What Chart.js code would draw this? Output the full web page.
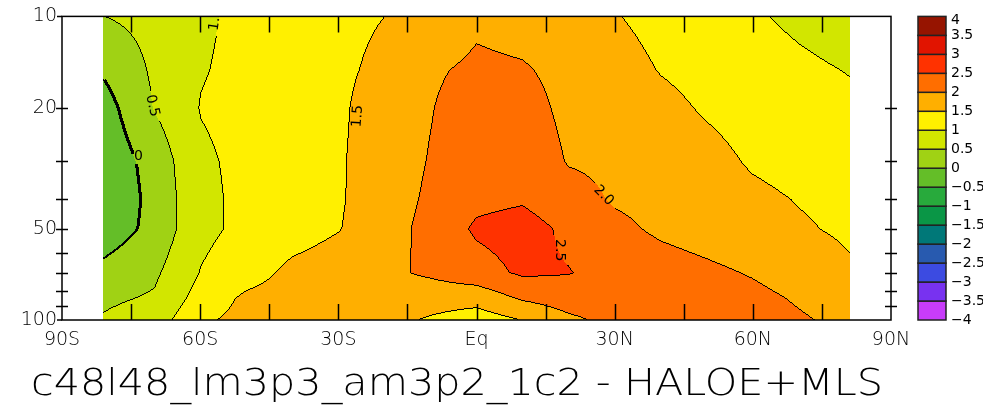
<!DOCTYPE html>
<html>
<head>
<meta charset="utf-8">
<script src="https://cdn.jsdelivr.net/npm/chart.js@4.4.0/dist/chart.umd.min.js"></script>
<style>
    html, body { margin: 0; padding: 0; background: #fff; }
</style>
</head>
<body>
<canvas id="chart" width="983" height="406"></canvas>
<script>
// grid: latitude columns, pressure rows (hPa)
const lats = [-81, -70, -60, -50, -40, -30, -20, -10, 0, 10, 20, 30, 40, 50, 60, 70, 81];
const pressures = [10, 15, 20, 30, 40, 50, 70, 85, 100];

const diff10  = [0.5, 0.65, 0.93, 1.1, 1.25, 1.4, 1.5, 1.62, 1.9, 1.8, 1.7, 1.53, 1.35, 1.2, 1.06, 0.9, 0.75];
const diff15  = [0.07, 0.58, 0.97, 1.12, 1.28, 1.42, 1.6, 1.93, 2.1, 2.05, 1.85, 1.7, 1.48, 1.35, 1.22, 1.1, 0.98];
const diff20  = [-0.2, 0.52, 1.02, 1.15, 1.28, 1.43, 1.72, 1.98, 2.25, 2.2, 1.88, 1.8, 1.63, 1.45, 1.32, 1.2, 1.1];
const diff30  = [-0.35, 0.2, 0.92, 1.12, 1.28, 1.45, 1.75, 2.03, 2.3, 2.35, 1.97, 1.9, 1.8, 1.65, 1.45, 1.35, 1.25];
const diff40  = [-0.4, 0.15, 0.88, 1.12, 1.28, 1.45, 1.78, 2.08, 2.38, 2.45, 2.2, 1.95, 1.85, 1.73, 1.6, 1.48, 1.4];
const diff50  = [-0.3, 0.15, 0.88, 1.12, 1.3, 1.48, 1.8, 2.15, 2.58, 2.7, 2.4, 2.12, 1.92, 1.8, 1.68, 1.55, 1.43];
const diff70  = [0.15, 0.42, 1.02, 1.3, 1.62, 1.75, 1.9, 2.08, 2.3, 2.58, 2.52, 2.35, 2.22, 2.1, 1.97, 1.8, 1.56];
const diff85  = [0.42, 0.56, 1.2, 1.6, 1.72, 1.78, 1.8, 1.72, 1.7, 2.06, 2.25, 2.3, 2.28, 2.22, 2.12, 1.96, 1.78];
const diff100 = [0.55, 0.75, 1.42, 1.65, 1.75, 1.75, 1.65, 1.45, 1.25, 1.52, 1.9, 2.15, 2.2, 2.2, 2.15, 2.05, 1.9];
const rows = [diff10, diff15, diff20, diff30, diff40, diff50, diff70, diff85, diff100];

// contour levels and shading (from -4 up to 4)
const levels = [-4, -3.5, -3, -2.5, -2, -1.5, -1, -0.5, 0, 0.5, 1, 1.5, 2, 2.5, 3, 3.5, 4];
const levelLabels = ['\u22124', '\u22123.5', '\u22123', '\u22122.5', '\u22122', '\u22121.5', '\u22121', '\u22120.5', '0', '0.5', '1', '1.5', '2', '2.5', '3', '3.5', '4'];
const bandColors = ['#c83cfa', '#7832f0', '#3c4be1', '#285aaf', '#007878', '#0a9646', '#28aa3c', '#64be28',
                    '#a0d214', '#d2e600', '#fff000', '#ffaf00', '#ff6e00', '#ff3200', '#e11400', '#961400'];

// contour labels: text, latitude, pressure, rotation (deg)
const contourLabels = [
    ['0', -73.4, 29.0, 0],
    ['0.5', -70.4, 19.7, 77],
    ['1.0', -56.7, 10.25, -82],
    ['1.5', -25.8, 21.3, -86],
    ['2.0', 27.6, 38.9, 45],
    ['2.5', 18.1, 58.9, 90]
];

const xTickValues = [-90, -60, -30, 0, 30, 60, 90];
const xTickLabels = ['90S', '60S', '30S', 'Eq', '30N', '60N', '90N'];
const xMinorTicks = [-75, -60, -45, -30, -15, 0, 15, 30, 45, 60, 75];
const yTickValues = [10, 20, 30, 40, 50, 60, 70, 80, 90, 100];
const yLabelValues = [10, 20, 50, 100];

const title = 'c48l48_lm3p3_am3p2_1c2 - HALOE+MLS';

function hexToRgb(h) {
    return [parseInt(h.slice(1, 3), 16), parseInt(h.slice(3, 5), 16), parseInt(h.slice(5, 7), 16)];
}

function interp(arr, t, i) {
    return arr[i] + (arr[i + 1] - arr[i]) * t;
}

function findSeg(axis, v) {
    let i = 0;
    while (i < axis.length - 2 && v > axis[i + 1]) i++;
    let t = (v - axis[i]) / (axis[i + 1] - axis[i]);
    return [i, Math.max(0, Math.min(1, t))];
}

const logP = pressures.map(p => Math.log(p));

const contourPlugin = {
    id: 'contour',
    beforeDatasetsDraw(chart) {
        const { ctx, chartArea: a, scales: { x, y } } = chart;
        const x0 = Math.round(x.getPixelForValue(lats[0]));
        const x1 = Math.round(x.getPixelForValue(lats[lats.length - 1]));
        const y0 = Math.round(a.top), y1 = Math.round(a.bottom);
        const w = x1 - x0, h = y1 - y0;
        const band = new Int8Array(w * h);

        const latCol = [];
        for (let i = 0; i < w; i++) latCol.push(findSeg(lats, x.getValueForPixel(x0 + i + 0.5)));

        for (let j = 0; j < h; j++) {
            const p = y.getValueForPixel(y0 + j + 0.5);
            const [pi, pt] = findSeg(logP, Math.log(p));
            const row = lats.map((_, k) => rows[pi][k] + (rows[pi + 1][k] - rows[pi][k]) * pt);
            for (let i = 0; i < w; i++) {
                const [li, lt] = latCol[i];
                const v = interp(row, lt, li);
                let b = Math.floor((v - levels[0]) / 0.5);
                band[j * w + i] = Math.max(0, Math.min(bandColors.length - 1, b));
            }
        }

        // label boxes in pixels (gaps in lines)
        const boxes = contourLabels.map(([txt, lat, p, rot]) => ({
            cx: x.getPixelForValue(lat), cy: y.getPixelForValue(p),
            c: Math.cos(rot * Math.PI / 180), s: Math.sin(rot * Math.PI / 180),
            hw: txt.length * 4.6 + 2, hh: 7
        }));
        function inLabel(px, py) {
            for (const bx of boxes) {
                const dx = px - bx.cx, dy = py - bx.cy;
                const u = dx * bx.c + dy * bx.s, v = -dx * bx.s + dy * bx.c;
                if (Math.abs(u) < bx.hw && Math.abs(v) < bx.hh) return true;
            }
            return false;
        }

        const rgb = bandColors.map(hexToRgb);
        const img = ctx.createImageData(w, h);
        const line = new Uint8Array(w * h);
        const zeroBand = levels.indexOf(0);
        for (let j = 0; j < h; j++) {
            for (let i = 0; i < w; i++) {
                const k = j * w + i, b = band[k];
                const nbs = [];
                if (i + 1 < w) nbs.push(k + 1);
                if (j + 1 < h) nbs.push(k + w);
                for (const n of nbs) {
                    const bn = band[n];
                    if (bn === b) continue;
                    if (inLabel(x0 + i, y0 + j)) continue;
                    line[b > bn ? k : n] = 1;
                    if (Math.min(b, bn) === zeroBand - 1 && Math.max(b, bn) === zeroBand) {
                        line[k] = 1; line[n] = 1;
                        if (i + 2 < w) line[k + 2] = 1;
                    }
                }
            }
        }
        for (let k = 0; k < w * h; k++) {
            const c = line[k] ? [0, 0, 0] : rgb[band[k]];
            img.data[k * 4] = c[0];
            img.data[k * 4 + 1] = c[1];
            img.data[k * 4 + 2] = c[2];
            img.data[k * 4 + 3] = 255;
        }
        ctx.putImageData(img, x0, y0);

        // contour labels
        ctx.save();
        ctx.beginPath();
        ctx.rect(a.left, a.top, a.right - a.left, a.bottom - a.top);
        ctx.clip();
        ctx.fillStyle = '#000';
        ctx.font = '14px "DejaVu Sans"';
        ctx.textAlign = 'center';
        ctx.textBaseline = 'middle';
        contourLabels.forEach(([txt, lat, p, rot]) => {
            ctx.save();
            ctx.translate(x.getPixelForValue(lat), y.getPixelForValue(p));
            ctx.rotate(rot * Math.PI / 180);
            ctx.fillText(txt, 0, 0);
            ctx.restore();
        });
        ctx.restore();
    },
    afterDraw(chart) {
        const { ctx, chartArea: a, scales: { x, y } } = chart;
        ctx.save();
        ctx.strokeStyle = '#000';
        ctx.lineWidth = 1.5;
        ctx.strokeRect(a.left, a.top, a.right - a.left, a.bottom - a.top);

        ctx.lineWidth = 1.5;
        ctx.beginPath();
        xMinorTicks.forEach(v => {
            const px = Math.round(x.getPixelForValue(v)) + 0.5;
            ctx.moveTo(px, a.top); ctx.lineTo(px, a.top + 16);
            ctx.moveTo(px, a.bottom); ctx.lineTo(px, a.bottom - 16);
        });
        yTickValues.forEach(v => {
            if (v === 10 || v === 100) return;
            const py = Math.round(y.getPixelForValue(v)) + 0.5;
            ctx.moveTo(a.left - 6, py); ctx.lineTo(a.left + 6, py);
            ctx.moveTo(a.right - 6, py); ctx.lineTo(a.right + 6, py);
        });
        ctx.moveTo(a.left - 5, a.top); ctx.lineTo(a.left, a.top);
        ctx.moveTo(a.left - 5, a.bottom); ctx.lineTo(a.left, a.bottom);
        ctx.stroke();

        // colour bar
        const cbL = 918, cbW = 28, cbTop = a.top, cbBot = a.bottom;
        const n = bandColors.length;
        const bh = (cbBot - cbTop) / n;
        for (let i = 0; i < n; i++) {
            const yb = cbBot - (i + 1) * bh;
            ctx.fillStyle = bandColors[i];
            ctx.fillRect(cbL, yb, cbW, bh);
            ctx.strokeStyle = '#222';
            ctx.lineWidth = 1.5;
            ctx.strokeRect(cbL, yb, cbW, bh);
        }
        ctx.fillStyle = '#000';
        ctx.font = '14px "DejaVu Sans"';
        ctx.textAlign = 'left';
        ctx.textBaseline = 'middle';
        levels.forEach((lv, i) => {
            let yy = cbBot - i * bh;
            if (i === levels.length - 1) yy += 4;
            ctx.fillText(levelLabels[i], cbL + 33, yy);
        });

        // title
        ctx.font = '200 38px "DejaVu Sans"';
        ctx.textBaseline = 'alphabetic';
        const tw = ctx.measureText(title).width;
        ctx.translate(31, 395);
        ctx.scale(852 / tw, 1);
        ctx.fillText(title, 0, 0);
        ctx.restore();
    }
};

new Chart(document.getElementById('chart'), {
    type: 'scatter',
    data: { datasets: [{ data: [] }] },
    options: {
        responsive: false,
        animation: false,
        layout: { padding: { top: 15, right: 92, left: 0, bottom: 0 } },
        plugins: { legend: { display: false }, tooltip: { enabled: false } },
        scales: {
            x: {
                type: 'linear', position: 'bottom', min: -90, max: 90,
                afterBuildTicks: axis => { axis.ticks = xTickValues.map(v => ({ value: v })); },
                afterFit: scale => { scale.height = 86; },
                grid: { display: false, drawTicks: false },
                border: { display: false },
                ticks: {
                    autoSkip: false, maxRotation: 0, padding: 9, color: '#000',
                    font: { family: 'DejaVu Sans', size: 19, weight: 200 },
                    callback: v => xTickLabels[xTickValues.indexOf(v)]
                }
            },
            y: {
                type: 'logarithmic', position: 'left', min: 10, max: 100, reverse: true,
                afterBuildTicks: axis => { axis.ticks = yTickValues.map(v => ({ value: v })); },
                afterFit: scale => { scale.width = 62; },
                grid: { display: false, drawTicks: false },
                border: { display: false },
                ticks: {
                    autoSkip: false, padding: 5, color: '#000',
                    font: { family: 'DejaVu Sans', size: 19, weight: 200 },
                    callback: v => yLabelValues.includes(v) ? String(v) : ''
                }
            }
        }
    },
    plugins: [contourPlugin]
});
</script>
</body>
</html>
